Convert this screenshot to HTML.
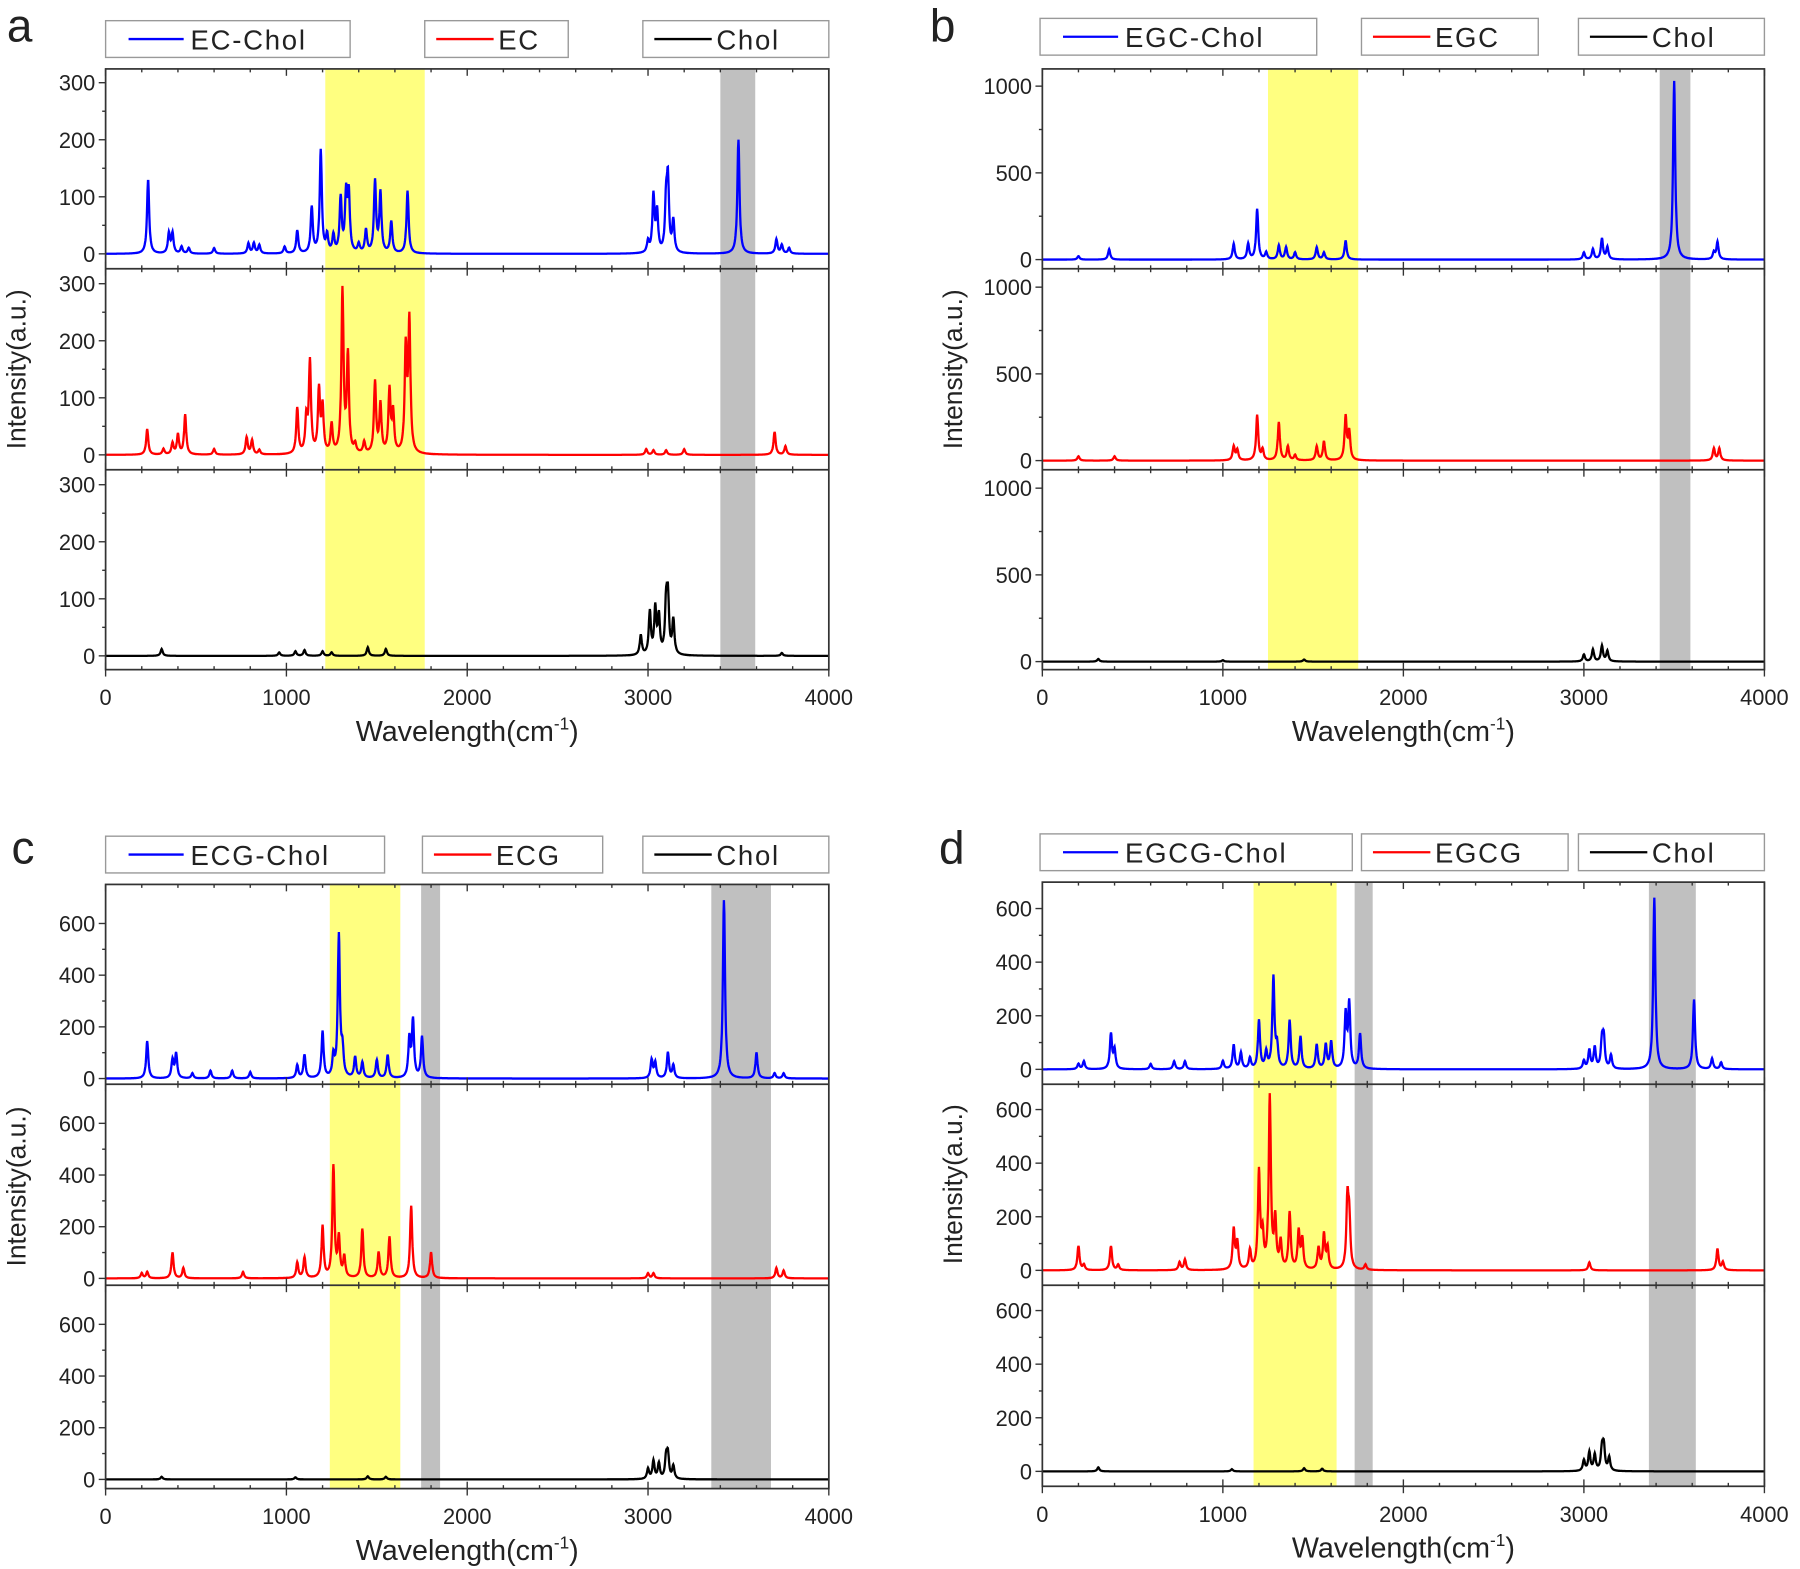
<!DOCTYPE html>
<html><head><meta charset="utf-8"><style>
html,body{margin:0;padding:0;background:#fff}
svg{display:block}
text{font-family:"Liberation Sans",Arial,sans-serif;fill:#222}
</style></head><body>
<svg id="s" width="1800" height="1569" viewBox="0 0 1568 1366" preserveAspectRatio="none" xmlns="http://www.w3.org/2000/svg"></svg>
<script>
const NS="http://www.w3.org/2000/svg",S=document.getElementById('s');
function el(t,a,txt){const e=document.createElementNS(NS,t);for(const k in a)e.setAttribute(k,a[k]);if(txt!==undefined)e.textContent=txt;S.appendChild(e);return e;}
function P(str){return str.split(',').map(s=>s.trim().split(':').map(Number));}
function panel(o){
 const L=o.L,R=o.R,T=o.T,B=o.B,W=R-L;
 const X=n=>L+W*n/4000;
 o.bands.forEach(b=>el('rect',{x:X(b[0]),y:T,width:X(b[1])-X(b[0]),height:B-T,fill:b[2]}));
 const cols=['#0000ff','#ff0000','#000000'];
 o.series.forEach((pk,i)=>{
  const z=o.zero[i],k=o.k;let d='';
  for(let n=0;n<=4000;n+=2){let I=0;for(const p of pk){const dx=(n-p[0])/7;I+=p[1]/(1+dx*dx);}
   d+=(n?'L':'M')+X(n).toFixed(1)+','+(z-I*k).toFixed(1);}
  el('path',{d:d,fill:'none',stroke:cols[i],'stroke-width':2});
 });
 el('rect',{x:L,y:T,width:W,height:B-T,fill:'none',stroke:'#333','stroke-width':1.5});
 o.div.forEach(y=>el('line',{x1:L,x2:R,y1:y,y2:y,stroke:'#333','stroke-width':1.5}));
 o.zero.forEach((z,i)=>{
  for(let v=0;v<=o.ymax;v+=o.ystep/2){const y=z-v*o.k;const maj=Math.abs(v%o.ystep)<1e-6;
   el('line',{x1:L-(maj?6:3),x2:L,y1:y,y2:y,stroke:'#333','stroke-width':1.2});
   if(maj)el('text',{x:L-9,y:y+7,'font-size':19,'text-anchor':'end'},String(v));}
 });
 [T,...o.div,B].forEach((y,j)=>{for(let n=0;n<=4000;n+=200){const maj=n%1000==0;
  const len=maj?6:3;
  if(j>0)el('line',{x1:X(n),x2:X(n),y1:y,y2:y-len,stroke:'#333','stroke-width':1.2});
  if(j<3)el('line',{x1:X(n),x2:X(n),y1:y,y2:y+len,stroke:'#333','stroke-width':1.2});
  if(j==3&&maj){el('line',{x1:X(n),x2:X(n),y1:B,y2:B+6,stroke:'#333','stroke-width':1.2});
   el('text',{x:X(n),y:B+31,'font-size':19,'text-anchor':'middle'},String(n));}}});
 el('text',{x:(L+R)/2,y:B+62,'font-size':25,'text-anchor':'middle'},'').innerHTML='Wavelength(cm<tspan font-size="15" dy="-10">-1</tspan><tspan dy="10">)</tspan>';
 el('text',{transform:`translate(${L-70},${(T+B)/2}) rotate(-90)`,'font-size':23,'text-anchor':'middle'},'Intensity(a.u.)');
 el('text',{x:o.lx,y:o.ly,'font-size':40},o.letter);
 o.leg.forEach((g,i)=>{el('rect',{x:g[0],y:o.legY,width:g[1]-g[0],height:32,fill:'#fff',stroke:'#999','stroke-width':1.2});
  const my=o.legY+16;el('line',{x1:g[0]+(i?10:20),x2:g[0]+(i?60:68),y1:my,y2:my,stroke:cols[i],'stroke-width':2});
  el('text',{x:g[0]+(i?64:74),y:my+9,'font-size':24,'letter-spacing':'1.5'},g[2]);});
}
const Y='#ffff80',G='#c0c0c0';
panel({L:92,R:722,T:60,B:583,div:[234,409],zero:[221,396,571],k:149/300,ymax:300,ystep:100,letter:'a',lx:6,ly:36,legY:18,
 leg:[[92,305,'EC-Chol'],[370,495,'EC'],[560,722,'Chol']],
 bands:[[1215,1765,Y],[3400,3593,G]],
 series:[P('235:130,350:35,370:35,420:12,460:10,600:10,790:18,820:18,850:15,990:12,1060:40,1140:80,1190:180,1225:30,1260:30,1300:95,1330:100,1345:100,1400:15,1440:40,1490:125,1520:105,1580:55,1670:110,3000:20,3030:100,3050:70,3100:85,3110:120,3140:55,3500:200,3710:25,3740:15,3780:10'),
 P('230:45,320:10,370:20,400:35,440:70,600:10,780:30,810:25,850:8,1060:80,1110:60,1130:160,1180:110,1200:80,1250:50,1310:285,1340:170,1380:15,1430:20,1490:125,1520:85,1570:110,1590:70,1660:180,1680:230,2990:10,3030:8,3100:8,3200:10,3700:40,3760:15'),
 P('310:12,960:6,1050:8,1100:10,1200:8,1250:6,1450:15,1550:12,2960:35,3010:75,3040:80,3060:65,3100:85,3110:95,3140:60,3740:5')]});
panel({L:908,R:1537,T:60,B:583,div:[234,409],zero:[226,401,576],k:151/1000,ymax:1000,ystep:500,letter:'b',lx:810,ly:36,legY:16,
 leg:[[906,1147,'EGC-Chol'],[1186,1340,'EGC'],[1375,1537,'Chol']],
 bands:[[1250,1750,Y],[3420,3590,G]],
 series:[P('200:20,370:60,1060:90,1140:90,1190:290,1240:40,1310:80,1350:70,1400:40,1520:70,1560:40,1680:110,3000:40,3050:60,3100:120,3130:70,3500:1030,3720:40,3740:100'),
 P('200:25,400:25,1060:80,1080:60,1190:260,1220:60,1310:220,1360:80,1400:30,1520:80,1560:110,1680:250,1700:160,3720:70,3750:70'),
 P('310:15,1000:8,1450:12,3000:40,3050:70,3100:90,3130:60')]});
panel({L:92,R:722,T:770,B:1296,div:[944,1119],zero:[939,1113,1288],k:135/600,ymax:600,ystep:200,letter:'c',lx:10,ly:752,legY:728,
 leg:[[92,335,'ECG-Chol'],[368,525,'ECG'],[560,722,'Chol']],
 bands:[[1240,1630,Y],[1745,1850,G],[3350,3680,G]],
 series:[P('230:145,370:70,390:95,480:20,580:30,700:30,800:25,1060:50,1100:90,1200:180,1260:80,1290:550,1310:100,1380:80,1420:60,1500:70,1560:90,1680:150,1700:220,1750:160,3020:70,3040:60,3110:100,3140:50,3420:690,3600:100,3700:20,3750:20'),
 P('200:20,230:25,370:100,430:40,760:25,1060:60,1100:80,1200:200,1260:430,1290:150,1320:80,1420:190,1510:100,1570:160,1690:280,1800:100,3000:20,3030:20,3710:40,3750:30'),
 P('310:10,1050:8,1450:12,1550:10,3000:40,3030:70,3060:60,3100:80,3110:90,3140:50')]});
panel({L:908,R:1537,T:768,B:1294,div:[944,1119],zero:[931,1106,1281],k:140/600,ymax:600,ystep:200,letter:'d',lx:818,ly:752,legY:726,
 leg:[[906,1178,'EGCG-Chol'],[1186,1366,'EGCG'],[1375,1537,'Chol']],
 bands:[[1170,1630,Y],[1730,1830,G],[3360,3620,G]],
 series:[P('200:20,230:30,380:130,400:70,600:20,730:30,790:30,1000:30,1060:90,1100:60,1150:40,1200:180,1240:60,1280:340,1300:80,1370:180,1430:120,1520:90,1570:90,1600:100,1680:200,1700:240,1760:130,3000:30,3030:70,3060:80,3100:100,3110:110,3150:50,3390:640,3610:260,3710:40,3760:25'),
 P('200:90,230:20,380:90,420:20,760:30,790:40,1060:150,1080:100,1150:70,1200:360,1220:120,1260:640,1290:180,1320:100,1370:210,1420:140,1440:110,1530:80,1560:130,1580:80,1690:250,1700:180,1790:20,3030:30,3740:80,3770:30'),
 P('310:15,1050:8,1450:12,1550:10,3000:40,3030:70,3060:60,3100:80,3110:90,3140:50')]});
</script>
</body></html>
